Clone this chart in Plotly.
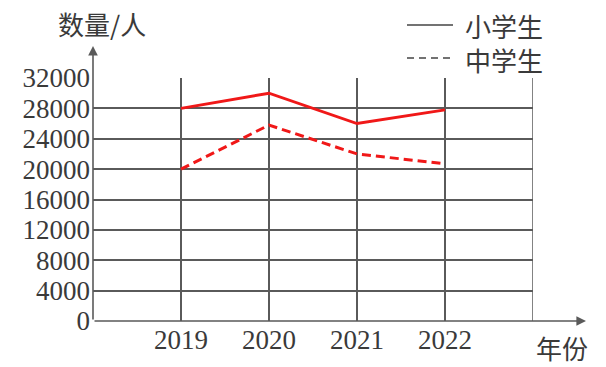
import plotly.graph_objects as go

years = [2019, 2020, 2021, 2022]
primary = [28000, 30000, 26000, 27800]     # 小学生
middle = [20000, 25800, 22000, 20700]      # 中学生
series_names = ["小学生", "中学生"]
x_tickvals = [2019, 2020, 2021, 2022, 2023]
x_ticktext = ["2019", "2020", "2021", "2022", ""]
y_tickvals = [0, 4000, 8000, 12000, 16000, 20000, 24000, 28000, 32000]
y_ticktext = [str(v) for v in y_tickvals]

W, H = 606, 367
L, R, T, B = 93, 73, 78, 46
PW, PH = W - L - R, H - T - B

def px(x):
    return (x - L) / PW

def py(y):
    return (H - B - y) / PH

GRID = "#5a5a5a"
TXT = "#3a3a3a"
RED = "#f01818"
CJK = "Noto Sans CJK SC"
SERIF = "Liberation Serif, Times New Roman, serif"

fig = go.Figure()
fig.add_trace(go.Scatter(x=years, y=primary, mode="lines", name=series_names[0],
                         line=dict(color=RED, width=3), showlegend=False))
fig.add_trace(go.Scatter(x=years, y=middle, mode="lines", name=series_names[1],
                         line=dict(color=RED, width=3, dash="9px,5px"), showlegend=False))

fig.update_layout(
    width=W, height=H,
    margin=dict(l=L, r=R, t=T, b=B),
    paper_bgcolor="white", plot_bgcolor="white",
    xaxis=dict(range=[2018, 2023], tickvals=x_tickvals, ticktext=x_ticktext,
               showgrid=True, gridcolor=GRID, gridwidth=1.5, zeroline=False,
               showline=False, ticks="", fixedrange=True,
               tickfont=dict(family=SERIF, size=27, color=TXT)),
    yaxis=dict(range=[0, 32000], tickvals=y_tickvals, ticktext=y_ticktext,
               showgrid=True, gridcolor=GRID, gridwidth=1.5, zeroline=False,
               showline=False, ticks="", ticklabelstandoff=2, fixedrange=True,
               tickfont=dict(family=SERIF, size=27, color=TXT)),
)

# axes with arrows
fig.add_annotation(xref="x domain", yref="y domain", x=0, y=py(46),
                   axref="x domain", ayref="y domain", ax=0, ay=0,
                   showarrow=True, arrowhead=2, arrowsize=1.2, arrowwidth=1.6,
                   arrowcolor=GRID, text="")
fig.add_annotation(xref="x domain", yref="y domain", x=px(586), y=0,
                   axref="x domain", ayref="y domain", ax=0, ay=0,
                   showarrow=True, arrowhead=2, arrowsize=1.2, arrowwidth=1.6,
                   arrowcolor=GRID, text="")

# right border line at 2023
fig.add_shape(type="line", xref="x", yref="y", x0=2023, x1=2023, y0=0, y1=32000,
              line=dict(color=GRID, width=1.5))

# axis titles
fig.add_annotation(xref="paper", yref="paper", x=px(56), y=py(24), xanchor="left",
                   yanchor="middle", text="数量/人", showarrow=False,
                   font=dict(family=CJK, size=26, color=TXT))
fig.add_annotation(xref="paper", yref="paper", x=px(534), y=py(347), xanchor="left",
                   yanchor="middle", text="年份", showarrow=False,
                   font=dict(family=CJK, size=26, color=TXT))

# legend
fig.add_shape(type="line", xref="paper", yref="paper", x0=px(407), x1=px(453),
              y0=py(25), y1=py(25), line=dict(color="#444", width=1.6))
fig.add_shape(type="line", xref="paper", yref="paper", x0=px(407), x1=px(453),
              y0=py(58), y1=py(58), line=dict(color="#444", width=1.6, dash="7px,5px"))
fig.add_annotation(xref="paper", yref="paper", x=px(463), y=py(42), xanchor="left",
                   yanchor="middle", align="left", text="<br>".join(series_names),
                   showarrow=False, font=dict(family=CJK, size=26, color=TXT))

fig.write_html("out.html", config={"displayModeBar": False})
